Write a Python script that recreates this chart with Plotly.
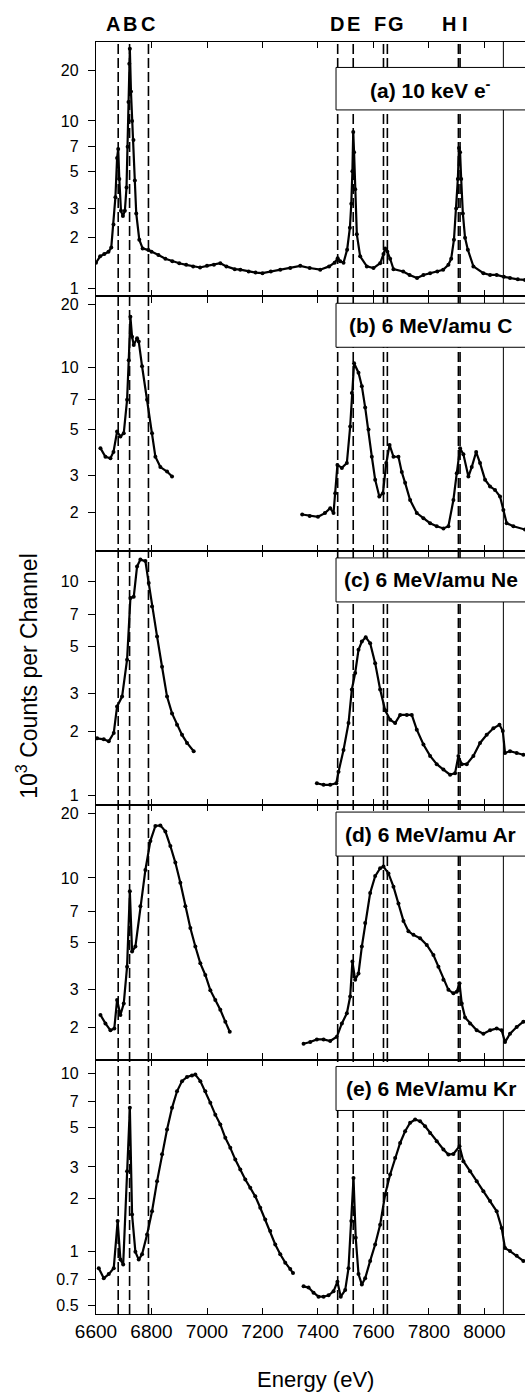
import plotly.graph_objects as go
from plotly.subplots import make_subplots

# ---- spectra (energy in eV, counts in 10^3 per channel) ----
a_energy = [6600, 6615, 6630, 6645, 6655, 6663, 6670, 6676, 6680, 6684, 6690, 6697, 6704, 6710,
            6714, 6717, 6720, 6722, 6726, 6730, 6735, 6740, 6745, 6756, 6768, 6789, 6800, 6825,
            6850, 6875, 6900, 6925, 6950, 6975, 7000, 7025, 7048, 7070, 7100, 7120, 7150, 7175,
            7200, 7230, 7264, 7300, 7336, 7370, 7408, 7440, 7460, 7471, 7480, 7492, 7505, 7515,
            7520, 7524, 7527, 7530, 7534, 7540, 7552, 7576, 7600, 7624, 7636, 7642, 7650, 7660,
            7672, 7707, 7730, 7757, 7780, 7804, 7830, 7851, 7870, 7880, 7890, 7898, 7904, 7908,
            7912, 7916, 7922, 7930, 7940, 7960, 7996, 8020, 8044, 8070, 8092, 8120, 8146]
a_counts = [1.42, 1.55, 1.60, 1.65, 1.75, 2.4, 3.5, 6.0, 6.8, 4.5, 2.9, 2.7, 2.9, 4.0,
            7.0, 13.0, 22.0, 27.0, 15.0, 10.0, 7.7, 4.4, 2.8, 1.95, 1.73, 1.69, 1.65, 1.58,
            1.50, 1.45, 1.41, 1.38, 1.35, 1.33, 1.36, 1.38, 1.41, 1.35, 1.30, 1.29, 1.26, 1.24,
            1.23, 1.26, 1.29, 1.32, 1.36, 1.32, 1.29, 1.35, 1.42, 1.51, 1.45, 1.42, 1.70, 2.3,
            3.2, 5.0, 8.6, 6.5, 3.9, 2.1, 1.55, 1.35, 1.32, 1.41, 1.60, 1.73, 1.65, 1.50,
            1.30, 1.26, 1.20, 1.15, 1.20, 1.23, 1.26, 1.29, 1.38, 1.50, 1.95, 3.0, 4.5, 6.9,
            6.5, 4.5, 2.8, 2.0, 1.70, 1.35, 1.23, 1.20, 1.20, 1.17, 1.15, 1.13, 1.12]

b_left_energy = [6616, 6634, 6652, 6663, 6676, 6688, 6700, 6712, 6718, 6724, 6730, 6736, 6748,
                 6754, 6766, 6784, 6802, 6814, 6832, 6856, 6874]
b_left_counts = [4.07, 3.7, 3.64, 3.9, 4.9, 4.63, 4.8, 6.96, 10.8, 17.5, 14.0, 12.8, 13.8,
                 13.3, 10.1, 6.96, 4.8, 3.7, 3.3, 3.14, 2.97]
b_right_energy = [7343, 7370, 7400, 7425, 7444, 7456, 7462, 7470, 7486, 7504, 7516, 7522, 7530,
                  7546, 7558, 7570, 7582, 7594, 7606, 7621, 7634, 7646, 7658, 7672, 7690, 7702,
                  7714, 7732, 7756, 7780, 7804, 7828, 7852, 7870, 7888, 7900, 7912, 7924, 7942,
                  7954, 7970, 7984, 8002, 8020, 8038, 8056, 8068, 8080, 8104, 8146]
b_right_counts = [1.95, 1.92, 1.90, 1.98, 2.09, 1.98, 2.47, 3.38, 3.27, 3.45, 5.17, 7.5, 10.45,
                  9.4, 8.1, 6.4, 5.0, 3.7, 2.87, 2.38, 2.47, 3.45, 4.22, 3.7, 3.7, 3.12,
                  2.77, 2.29, 1.98, 1.87, 1.77, 1.71, 1.67, 1.71, 2.29, 3.08, 4.07, 3.8, 2.97,
                  3.3, 3.9, 3.45, 2.87, 2.66, 2.56, 2.38, 2.05, 1.77, 1.71, 1.65]

c_left_energy = [6604, 6628, 6646, 6664, 6676, 6694, 6712, 6724, 6736, 6748, 6760, 6778, 6790,
                 6802, 6820, 6838, 6856, 6874, 6892, 6910, 6928, 6952]
c_left_counts = [1.85, 1.83, 1.79, 1.96, 2.61, 2.9, 4.32, 8.4, 8.5, 11.8, 12.7, 12.5, 9.86,
                 7.66, 5.55, 4.0, 2.9, 2.42, 2.14, 1.92, 1.76, 1.61]
c_right_energy = [7396, 7420, 7444, 7466, 7474, 7492, 7510, 7522, 7534, 7546, 7558, 7572, 7588,
                  7606, 7624, 7642, 7660, 7678, 7696, 7720, 7738, 7756, 7780, 7804, 7828, 7852,
                  7876, 7894, 7906, 7918, 7936, 7960, 7984, 8008, 8032, 8054, 8066, 8074, 8092,
                  8116, 8140]
c_right_counts = [1.14, 1.12, 1.12, 1.14, 1.29, 1.63, 2.18, 3.13, 3.74, 4.8, 5.25, 5.5, 5.16,
                  4.16, 3.13, 2.5, 2.26, 2.18, 2.38, 2.38, 2.38, 2.03, 1.73, 1.53, 1.40, 1.32,
                  1.25, 1.27, 1.53, 1.40, 1.40, 1.53, 1.76, 1.92, 2.06, 2.14, 2.0, 1.58, 1.61,
                  1.58, 1.55]

d_left_energy = [6616, 6634, 6652, 6666, 6676, 6688, 6700, 6712, 6722, 6730, 6742, 6760, 6778,
                 6796, 6814, 6832, 6850, 6868, 6886, 6904, 6922, 6940, 6958, 6976, 6994, 7012,
                 7030, 7048, 7066, 7082]
d_left_counts = [2.29, 2.09, 1.94, 1.98, 2.69, 2.29, 2.59, 3.85, 8.66, 4.53, 4.78, 7.37, 10.9,
                 14.9, 17.5, 17.6, 16.5, 14.1, 11.8, 9.5, 7.37, 5.83, 4.78, 3.99, 3.52, 2.99,
                 2.69, 2.42, 2.13, 1.91]
d_right_energy = [7348, 7372, 7396, 7420, 7444, 7468, 7486, 7504, 7516, 7524, 7534, 7546, 7558,
                  7570, 7588, 7606, 7624, 7636, 7654, 7672, 7690, 7708, 7726, 7744, 7768, 7792,
                  7816, 7834, 7852, 7870, 7888, 7900, 7910, 7918, 7930, 7948, 7972, 7996, 8020,
                  8044, 8062, 8074, 8092, 8116, 8140]
d_right_counts = [1.68, 1.71, 1.76, 1.76, 1.73, 1.81, 2.09, 2.33, 2.79, 4.07, 3.34, 3.58, 4.78,
                  6.15, 8.5, 10.2, 11.1, 11.3, 10.5, 9.1, 7.6, 6.3, 5.63, 5.42, 5.23, 4.86,
                  4.36, 3.85, 3.34, 3.0, 2.89, 2.94, 3.22, 2.59, 2.23, 2.09, 1.94, 1.87, 1.94,
                  1.98, 1.94, 1.71, 1.87, 2.01, 2.13]

e_left_energy = [6610, 6628, 6646, 6664, 6678, 6688, 6698, 6712, 6722, 6730, 6742, 6754, 6766,
                 6784, 6802, 6820, 6838, 6856, 6874, 6892, 6910, 6928, 6946, 6958, 6976, 6994,
                 7012, 7030, 7048, 7066, 7084, 7102, 7120, 7138, 7156, 7174, 7192, 7210, 7228,
                 7246, 7264, 7282, 7300, 7310]
e_left_counts = [0.81, 0.71, 0.75, 0.81, 1.49, 0.905, 0.85, 2.84, 6.44, 1.62, 1.0, 0.905, 0.97,
                 1.25, 1.69, 2.49, 3.53, 4.87, 6.44, 7.98, 9.1, 9.6, 9.8, 9.9, 9.1, 7.98,
                 6.87, 5.9, 5.2, 4.37, 3.84, 3.3, 2.9, 2.55, 2.29, 2.05, 1.77, 1.52, 1.31,
                 1.10, 0.97, 0.87, 0.80, 0.76]
e_right_energy = [7348, 7366, 7384, 7402, 7420, 7438, 7456, 7470, 7482, 7498, 7510, 7520, 7528,
                  7536, 7546, 7558, 7570, 7588, 7606, 7624, 7642, 7660, 7678, 7696, 7714, 7732,
                  7750, 7768, 7786, 7804, 7828, 7852, 7870, 7888, 7910, 7924, 7948, 7972, 7996,
                  8020, 8044, 8062, 8074, 8092, 8116, 8140]
e_right_counts = [0.64, 0.63, 0.59, 0.56, 0.56, 0.57, 0.60, 0.68, 0.56, 0.61, 0.81, 1.49, 2.6,
                  1.2, 0.75, 0.655, 0.71, 0.89, 1.10, 1.42, 2.1, 2.72, 3.37, 4.09, 4.76, 5.31,
                  5.54, 5.42, 5.08, 4.66, 4.18, 3.76, 3.52, 3.55, 3.92, 3.23, 2.84, 2.49, 2.19,
                  1.93, 1.69, 1.36, 1.05, 1.01, 0.95, 0.89]

# ---- reference transition energies (eV) ----
line_names = ["A", "B", "C", "D", "E", "F", "G", "H", "I"]
line_energies = [6680, 6721, 6789, 7471, 7527, 7636, 7650, 7906, 7912]
edge_energy = 8068

# ---- panel labels and log tick sets ----
panel_titles = ["(a) 10 keV e<sup>-</sup>", "(b) 6 MeV/amu C", "(c) 6 MeV/amu Ne",
                "(d) 6 MeV/amu Ar", "(e) 6 MeV/amu Kr"]
panel_ticks = [[1, 2, 3, 5, 7, 10, 20],
               [2, 3, 5, 7, 10, 20],
               [1, 2, 3, 5, 7, 10],
               [2, 3, 5, 7, 10, 20],
               [0.5, 0.7, 1, 2, 3, 5, 7, 10]]
panel_ranges = [[-0.049, 1.472], [0.115, 1.341], [-0.046, 1.145], [0.151, 1.340], [-0.349, 1.080]]
x_ticks = [6600, 6800, 7000, 7200, 7400, 7600, 7800, 8000]

series = [
    [(a_energy, a_counts)],
    [(b_left_energy, b_left_counts), (b_right_energy, b_right_counts)],
    [(c_left_energy, c_left_counts), (c_right_energy, c_right_counts)],
    [(d_left_energy, d_left_counts), (d_right_energy, d_right_counts)],
    [(e_left_energy, e_left_counts), (e_right_energy, e_right_counts)],
]

FONT = "Liberation Sans, Arial, sans-serif"
W, H = 525, 1393
ML, MT, MB = 96, 42, 78.5
X_MAX = 8146

fig = make_subplots(rows=5, cols=1, shared_xaxes=True, vertical_spacing=0)

for row, segs in enumerate(series, start=1):
    for xs, ys in segs:
        fig.add_trace(go.Scatter(x=xs, y=ys, mode="lines+markers",
                                 line=dict(color="black", width=2.2),
                                 marker=dict(color="black", size=4),
                                 showlegend=False, hoverinfo="skip"),
                      row=row, col=1)
    fig.update_yaxes(type="log", range=panel_ranges[row - 1],
                     tickvals=panel_ticks[row - 1],
                     ticktext=[f"{v:g}" for v in panel_ticks[row - 1]],
                     ticks="outside", ticklen=7, tickwidth=1.2, tickcolor="black",
                     ticklabelstandoff=6,
                     showline=True, linecolor="black", linewidth=1.4, mirror=False,
                     showgrid=False, zeroline=False,
                     tickfont=dict(family=FONT, size=16, color="black"),
                     row=row, col=1)
    fig.update_xaxes(range=[6600, X_MAX], tickvals=x_ticks,
                     ticks="inside", ticklen=6, tickwidth=1.2, tickcolor="black",
                     showline=True, linecolor="black", linewidth=1.4, mirror="ticks",
                     showgrid=False, zeroline=False,
                     showticklabels=(row == 5),
                     tickfont=dict(family=FONT, size=19, color="black"),
                     row=row, col=1)

# dashed markers for the transition energies, spanning all panels
for e in line_energies:
    fig.add_shape(type="line", xref="x5", yref="paper", x0=e, x1=e, y0=0, y1=1,
                  line=dict(color="black", width=1.6, dash="10px,4px"), layer="above")
fig.add_shape(type="line", xref="x5", yref="paper", x0=edge_energy, x1=edge_energy,
              y0=0, y1=1, line=dict(color="black", width=1), layer="above")

# letter labels above the top panel
label_x = [6663, 6721, 6787, 7470, 7527, 7624, 7681, 7872, 7930]
for name, lx in zip(line_names, label_x):
    fig.add_annotation(text=f"<b>{name}</b>", x=lx, xref="x5", y=1.0145, yref="paper",
                       showarrow=False, xanchor="center", yanchor="middle",
                       font=dict(family=FONT, size=20, color="black"))

# boxed panel titles
box_top = [0.9, 0.973, 0.972, 0.973, 0.973]
box_bot = [0.733, 0.8, 0.799, 0.8, 0.8]
box_left = 7465
for i, title in enumerate(panel_titles):
    yd = "y domain" if i == 0 else f"y{i + 1} domain"
    xr = "x" if i == 0 else f"x{i + 1}"
    fig.add_shape(type="rect", xref=xr, yref=yd, x0=box_left, x1=8200,
                  y0=box_bot[i], y1=box_top[i],
                  line=dict(color="black", width=1), fillcolor="white", layer="above")
    fig.add_annotation(text=f"<b>{title}</b>", xref=xr, yref=yd, x=7806,
                       y=(box_top[i] + box_bot[i]) / 2, showarrow=False,
                       xanchor="center", yanchor="middle",
                       font=dict(family=FONT, size=21, color="black"))

plot_w = W - ML
plot_h = H - MT - MB
fig.add_annotation(text="10<sup>3</sup> Counts per Channel", textangle=-90,
                   xref="paper", yref="paper", x=(27 - ML) / plot_w,
                   y=(H - MB - 676) / plot_h, showarrow=False,
                   xanchor="center", yanchor="middle",
                   font=dict(family=FONT, size=23, color="black"))
fig.add_annotation(text="Energy (eV)", xref="paper", yref="paper",
                   x=(315 - ML) / plot_w, y=(H - MB - 1380) / plot_h, showarrow=False,
                   xanchor="center", yanchor="middle",
                   font=dict(family=FONT, size=22, color="black"))

fig.update_layout(width=W, height=H, margin=dict(l=ML, r=0, t=MT, b=MB),
                  plot_bgcolor="white", paper_bgcolor="white",
                  font=dict(family=FONT, color="black"), showlegend=False)

fig.write_html("out.html")
